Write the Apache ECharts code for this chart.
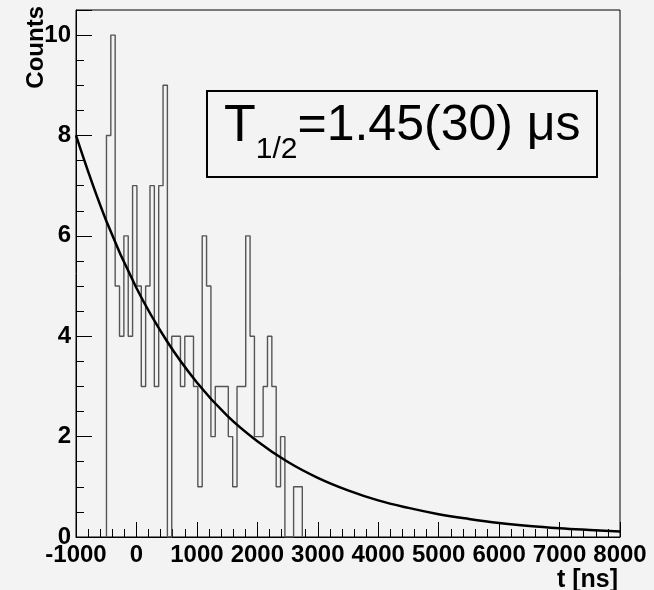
<!DOCTYPE html>
<html><head><meta charset="utf-8">
<script src="https://cdn.jsdelivr.net/npm/echarts@6/dist/echarts.min.js"></script>
<style>html,body{margin:0;padding:0;background:#f3f3f3}#c{width:654px;height:590px}</style>
</head><body><div id="c"></div>
<script>
// Histogram: bin layout and counts
const binStart = -496;   // ns, left edge of first filled bin
const binWidth = 72;     // ns
const counts = [8,10,5,4,6,4,7,5,3,5,7,3,7,9,0,4,4,3,4,4,3,1,6,5,2,3,3,3,2,1,3,3,6,4,2,2,3,4,3,1,2,0,0,1,1];
// Fit curve, values
const fitT = [-1000,-500,0,500,1000,1500,2000,2500,3000,3500,4000,4500,5000,5500,6000,6500,7000,7500,8000];
const fitY = [8.00,6.30,4.96,3.91,3.08,2.42,1.91,1.50,1.18,0.93,0.73,0.58,0.455,0.36,0.28,0.22,0.175,0.14,0.108];
// Axes
const xMin = -1000, xMax = 8000, xStep = 1000;
const yMin = 0, yMax = 10.5, yStep = 2;
const xTitle = 't [ns]';
const yTitle = 'Counts';
const boxText = ['T', '1/2', '=1.45(30) \u03bcs'];

const FF = '"Liberation Sans", Arial, Helvetica, sans-serif';

const histPts = [[binStart, 0]];
counts.forEach((c, k) => {
  histPts.push([binStart + k * binWidth, c]);
  histPts.push([binStart + (k + 1) * binWidth, c]);
});
histPts.push([binStart + counts.length * binWidth, 0]);
const fitPts = fitT.map((t, i) => [t, fitY[i]]);

const ctx = document.createElement('canvas').getContext('2d');
ctx.font = '50px ' + FF;
const wT = ctx.measureText(boxText[0]).width;
ctx.font = '30px ' + FF;
const wS = ctx.measureText(boxText[1]).width;
const tx = 224;

const chart = echarts.init(document.getElementById('c'), null, {renderer: 'canvas'});
chart.setOption({
  animation: false,
  backgroundColor: '#f3f3f3',
  grid: {left: 76, right: 34, top: 10, bottom: 53, show: true, borderColor: '#000', borderWidth: 1,
         backgroundColor: 'transparent', containLabel: false, outerBoundsMode: 'none'},
  xAxis: {
    type: 'value', min: xMin, max: xMax, interval: xStep,
    axisLine: {show: true, onZero: false, lineStyle: {color: '#000', width: 1}},
    axisTick: {show: true, inside: true, length: 15, lineStyle: {color: '#000', width: 1}},
    minorTick: {show: true, splitNumber: 5, length: 8, lineStyle: {color: '#000', width: 1}},
    splitLine: {show: false},
    axisLabel: {color: '#000', fontSize: 24, fontWeight: 'bold', fontFamily: FF, margin: 6,
      showMaxLabel: true, showMinLabel: true, hideOverlap: false,
      formatter: v => String(v)},
    name: xTitle, nameLocation: 'end', nameGap: 0, nameMoveOverlap: false,
    nameTextStyle: {color: '#000', fontSize: 25, fontWeight: 'bold', fontFamily: FF, align: 'right', verticalAlign: 'top', padding: [31, 2, 0, 0]}
  },
  yAxis: {
    type: 'value', min: yMin, max: yMax, interval: yStep,
    axisLine: {show: true, onZero: false, lineStyle: {color: '#000', width: 1}},
    axisTick: {show: true, inside: true, length: 16, lineStyle: {color: '#000', width: 1}},
    minorTick: {show: true, splitNumber: 4, length: 8, lineStyle: {color: '#000', width: 1}},
    splitLine: {show: false},
    axisLabel: {color: '#000', fontSize: 24, fontWeight: 'bold', fontFamily: FF, margin: 5, showMaxLabel: false,
      formatter: v => (v % 2 === 0 ? String(v) : '')}
  },
  graphic: [
    {type: 'text', x: 36, y: 6, rotation: Math.PI / 2, z: 10,
     style: {text: yTitle, font: 'bold 24px ' + FF, fill: '#000', align: 'right', verticalAlign: 'middle'}},
    {type: 'rect', shape: {x: 207, y: 91, width: 390, height: 86}, z: 10,
     style: {fill: '#f3f3f3', stroke: '#000', lineWidth: 2}},
    {type: 'text', x: tx, y: 126.5, z: 11,
     style: {text: boxText[0], font: '52px ' + FF, fill: '#000', align: 'left', verticalAlign: 'middle'}},
    {type: 'text', x: tx + wT * 1.04, y: 149.5, z: 11,
     style: {text: boxText[1], font: '30px ' + FF, fill: '#000', align: 'left', verticalAlign: 'middle'}},
    {type: 'text', x: tx + wT * 1.04 + wS, y: 126.5, z: 11,
     style: {text: boxText[2], font: '50px ' + FF, fill: '#000', align: 'left', verticalAlign: 'middle'}}
  ],
  series: [
    {type: 'line', data: histPts, symbol: 'none', clip: true, z: 2,
     lineStyle: {color: '#555', width: 1.4}},
    {type: 'line', data: fitPts, symbol: 'none', smooth: 0.4, clip: true, z: 3,
     lineStyle: {color: '#000', width: 2.5}}
  ]
});
</script></body></html>
